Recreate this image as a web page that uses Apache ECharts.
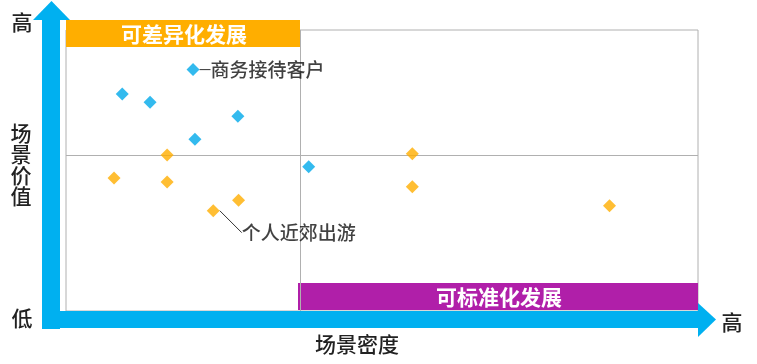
<!DOCTYPE html>
<html><head><meta charset="utf-8">
<script src="https://cdn.jsdelivr.net/npm/echarts@6/dist/echarts.min.js"></script>
<style>html,body{margin:0;padding:0;background:#fff}#c{width:757px;height:364px}</style>
</head><body><div id="c"></div>
<script>
// Scene density (x) and scene value (y), 0-100 scale
const blueX = [20.1, 8.9, 13.3, 27.2, 20.4, 38.4];
const blueY = [85.9, 77.2, 74.3, 69.3, 61.1, 51.3];
const orangeX = [16.0, 7.6, 16.0, 27.3, 23.3, 54.8, 54.8, 86.0];
const orangeY = [55.5, 47.3, 45.9, 39.4, 35.7, 56.0, 44.2, 37.5];
const blueLabel = {index: 0, text: '商务接待客户'};
const orangeLabel = {index: 4, text: '个人近郊出游'};
const divX = 37.0, divY = 55.5;
const xName = '场景密度', yName = '场景价值', highText = '高', lowText = '低';
const topBanner = '可差异化发展', bottomBanner = '可标准化发展';

const FONT = '"Noto Sans CJK SC", "Noto Sans", sans-serif';
const BLUE = '#00A9EA', ORANGE = '#FFAE00', ARROW = '#00B0F0', PURPLE = '#B01FA9';

function pts(xs, ys, lab) {
  return xs.map((x, i) => {
    const d = {value: [x, ys[i]]};
    if (lab && lab.index === i) {
      d.label = {show: true, formatter: lab.text};
      d.labelLine = {show: true};
    }
    return d;
  });
}

const chart = echarts.init(document.getElementById('c'), null, {renderer: 'canvas'});
chart.setOption({
  animation: false,
  grid: {left: 66, top: 30, width: 632, height: 281, show: true, borderColor: '#b0b0b0', borderWidth: 1},
  xAxis: {type: 'value', min: 0, max: 100, axisLine: {show: false}, axisTick: {show: false}, axisLabel: {show: false}, splitLine: {show: false}},
  yAxis: {type: 'value', min: 0, max: 100, axisLine: {show: false}, axisTick: {show: false}, axisLabel: {show: false}, splitLine: {show: false}},
  graphic: [
    // vertical arrow
    {type: 'rect', shape: {x: 42, y: 19, width: 18, height: 310}, style: {fill: ARROW}, z: 1},
    {type: 'polygon', shape: {points: [[33, 20], [51.5, 1], [70, 20]]}, style: {fill: ARROW}, z: 1},
    // horizontal arrow
    {type: 'rect', shape: {x: 42, y: 311, width: 657, height: 17}, style: {fill: ARROW}, z: 1},
    {type: 'polygon', shape: {points: [[698, 303], [716, 319.5], [698, 337]]}, style: {fill: ARROW}, z: 1},
    // banners
    {type: 'rect', shape: {x: 66, y: 20, width: 234, height: 27}, style: {fill: ORANGE}, z: 3},
    {type: 'text', x: 184, y: 34, style: {text: topBanner, fill: '#fff', font: 'bold 21px ' + FONT, align: 'center', verticalAlign: 'middle'}, z: 4},
    {type: 'rect', shape: {x: 298, y: 283, width: 400, height: 27}, style: {fill: PURPLE}, z: 3},
    {type: 'text', x: 499, y: 297, style: {text: bottomBanner, fill: '#fff', font: 'bold 21px ' + FONT, align: 'center', verticalAlign: 'middle'}, z: 4},
    // axis texts
    {type: 'text', x: 22, y: 22, style: {text: highText, fill: '#222', font: '500 21px ' + FONT, align: 'center', verticalAlign: 'middle'}},
    {type: 'text', x: 21, y: 165, style: {text: yName.split('').join('\n'), fill: '#222', font: '500 21px ' + FONT, align: 'center', verticalAlign: 'middle', lineHeight: 21}},
    {type: 'text', x: 22, y: 318, style: {text: lowText, fill: '#222', font: '500 21px ' + FONT, align: 'center', verticalAlign: 'middle'}},
    {type: 'text', x: 732, y: 322, style: {text: highText, fill: '#222', font: '500 21px ' + FONT, align: 'center', verticalAlign: 'middle'}},
    {type: 'text', x: 357, y: 344, style: {text: xName, fill: '#222', font: '500 21px ' + FONT, align: 'center', verticalAlign: 'middle'}}
  ],
  series: [
    {
      type: 'scatter', symbol: 'diamond', symbolSize: 13, z: 5,
      itemStyle: {color: BLUE},
      label: {show: false, position: 'right', color: '#111', fontSize: 19, fontWeight: 500, fontFamily: FONT},
      labelLine: {lineStyle: {color: '#333', width: 1}},
      labelLayout: function (p) { return p.dataIndex === blueLabel.index ? {dx: 6, dy: 0} : {}; },
      data: pts(blueX, blueY, blueLabel),
      markLine: {
        silent: true, symbol: 'none', label: {show: false},
        lineStyle: {color: '#b0b0b0', type: 'solid', width: 1},
        data: [{xAxis: divX}, {yAxis: divY}]
      }
    },
    {
      type: 'scatter', symbol: 'diamond', symbolSize: 13, z: 5,
      itemStyle: {color: ORANGE},
      label: {show: false, position: 'right', color: '#111', fontSize: 19, fontWeight: 500, fontFamily: FONT},
      labelLine: {lineStyle: {color: '#333', width: 1}},
      labelLayout: function (p) { return p.dataIndex === orangeLabel.index ? {dx: 17, dy: 22} : {}; },
      data: pts(orangeX, orangeY, orangeLabel)
    }
  ]
});
</script></body></html>
